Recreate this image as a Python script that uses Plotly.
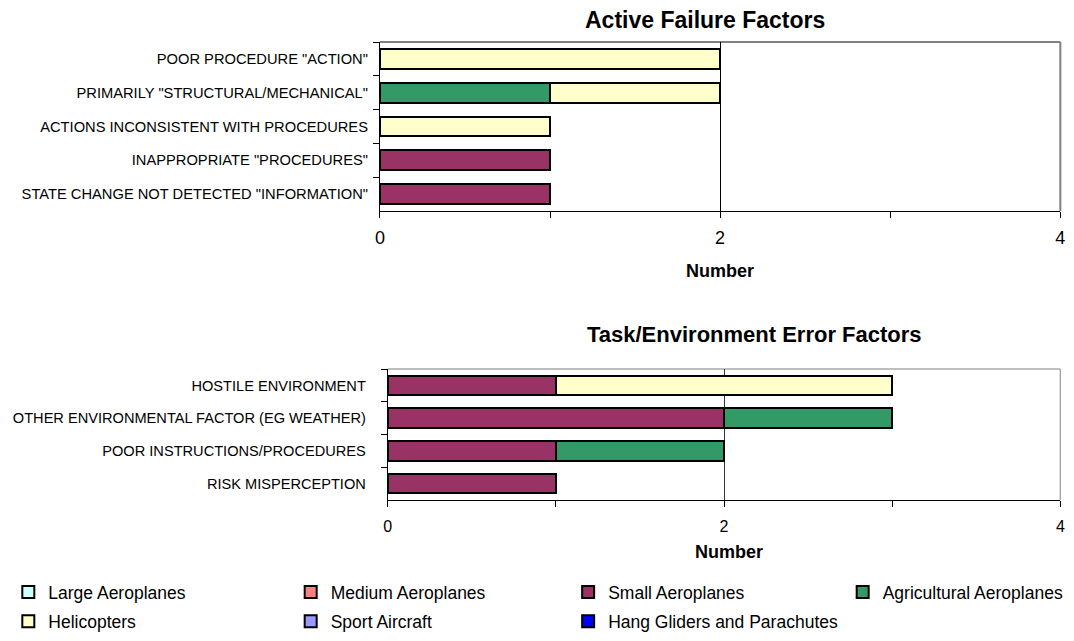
import plotly.graph_objects as go

W, H = 1074, 641

# ---------------- data ----------------
series_names = ["Large Aeroplanes", "Medium Aeroplanes", "Small Aeroplanes",
                "Agricultural Aeroplanes", "Helicopters", "Sport Aircraft",
                "Hang Gliders and Parachutes"]
series_colors = ["#CCFFFF", "#FF8080", "#993366", "#339966", "#FFFFCC", "#9999FF", "#0000FF"]

active_categories = ['POOR PROCEDURE "ACTION"', 'PRIMARILY "STRUCTURAL/MECHANICAL"',
                     'ACTIONS INCONSISTENT WITH PROCEDURES', 'INAPPROPRIATE "PROCEDURES"',
                     'STATE CHANGE NOT DETECTED "INFORMATION"']
active_large = [0, 0, 0, 0, 0]
active_medium = [0, 0, 0, 0, 0]
active_small = [0, 0, 0, 1, 1]
active_agricultural = [0, 1, 0, 0, 0]
active_helicopters = [2, 1, 1, 0, 0]
active_sport = [0, 0, 0, 0, 0]
active_hang = [0, 0, 0, 0, 0]

task_categories = ["HOSTILE ENVIRONMENT", "OTHER ENVIRONMENTAL FACTOR (EG WEATHER)",
                   "POOR INSTRUCTIONS/PROCEDURES", "RISK MISPERCEPTION"]
task_large = [0, 0, 0, 0]
task_medium = [0, 0, 0, 0]
task_small = [1, 2, 1, 1]
task_agricultural = [0, 1, 1, 0]
task_helicopters = [2, 0, 0, 0]
task_sport = [0, 0, 0, 0]
task_hang = [0, 0, 0, 0]

x_tick_values = [0, 2, 4]
x_minor_tick_values = [1, 3]
top_title = "Active Failure Factors"
bottom_title = "Task/Environment Error Factors"
x_title = "Number"

legend_columns = [["Large Aeroplanes", "Helicopters"],
                  ["Medium Aeroplanes", "Sport Aircraft"],
                  ["Small Aeroplanes", "Hang Gliders and Parachutes"],
                  ["Agricultural Aeroplanes"]]

active_values = [active_large, active_medium, active_small, active_agricultural,
                 active_helicopters, active_sport, active_hang]
task_values = [task_large, task_medium, task_small, task_agricultural,
               task_helicopters, task_sport, task_hang]

# ---------------- helpers ----------------
FONT = "Arial, Liberation Sans, sans-serif"
OFF = 8  # page body margin of the html page


def fx(px):
    return (px - OFF) / W


def fy(py):
    return 1 - (py - OFF) / H


legend_of = {}
for i, col in enumerate(legend_columns):
    for name in col:
        legend_of[name] = "legend" if i == 0 else f"legend{i + 1}"

fig = go.Figure()

for name, color, vals in zip(series_names, series_colors, active_values):
    fig.add_trace(go.Bar(
        x=vals, y=active_categories, orientation="h", name=name,
        marker=dict(color=color, line=dict(color="black", width=2)),
        xaxis="x", yaxis="y", legend=legend_of[name], legendgroup=name,
        showlegend=True, hoverinfo="x+y+name"))

for name, color, vals in zip(series_names, series_colors, task_values):
    fig.add_trace(go.Bar(
        x=vals, y=task_categories, orientation="h", name=name,
        marker=dict(color=color, line=dict(color="black", width=2)),
        xaxis="x2", yaxis="y2", legend=legend_of[name], legendgroup=name,
        showlegend=False, hoverinfo="x+y+name"))

common_x = dict(range=[0, 4], tickmode="array", tickvals=x_tick_values,
                ticks="outside", ticklen=6, tickcolor="black", tickwidth=1,
                showline=True, linecolor="black", linewidth=1,
                showgrid=True, gridcolor="black", gridwidth=1, zeroline=False,
                minor=dict(tickmode="array", tickvals=x_minor_tick_values, ticks="outside",
                           ticklen=6, tickcolor="black", showgrid=False),
                fixedrange=True)

common_y = dict(type="category", autorange="reversed", tickson="boundaries",
                ticks="outside", ticklen=6, tickcolor="black",
                showline=True, linecolor="black", linewidth=1,
                showgrid=False, zeroline=False, fixedrange=True)

legend_common = dict(orientation="v", yanchor="top", xanchor="left",
                     font=dict(family=FONT, size=17.5, color="black"),
                     bgcolor="rgba(0,0,0,0)", borderwidth=0,
                     tracegroupgap=3.5, traceorder="grouped")

legend_x = [-8, 280, 563, 843]
legend_top = 574

layout_legends = {}
for i in range(len(legend_columns)):
    key = "legend" if i == 0 else f"legend{i + 1}"
    layout_legends[key] = dict(legend_common, x=fx(legend_x[i]), y=fy(legend_top))

fig.update_layout(
    width=W, height=H, autosize=False,
    margin=dict(l=0, r=0, t=0, b=0),
    paper_bgcolor="white", plot_bgcolor="white",
    barmode="stack", bargap=0.41,
    font=dict(family=FONT, color="black"),
    xaxis=dict(common_x, domain=[fx(371), fx(1065)], anchor="y",
               tickfont=dict(size=18), ticklabelstandoff=4),
    yaxis=dict(common_y, domain=[fy(211), fy(42)], anchor="x",
               tickfont=dict(size=14.7), ticklabelstandoff=8),
    xaxis2=dict(common_x, domain=[fx(379), fx(1065)], anchor="y2",
                tickfont=dict(size=16), ticklabelstandoff=6,
                gridcolor="#333333"),
    yaxis2=dict(common_y, domain=[fy(500), fy(369)], anchor="x2",
                tickfont=dict(size=14.6), ticklabelstandoff=18),
    shapes=[
        dict(type="line", xref="x domain", yref="y domain", x0=0, x1=1, y0=1, y1=1,
             line=dict(color="#808080", width=2), layer="below"),
        dict(type="line", xref="x domain", yref="y domain", x0=1, x1=1, y0=0, y1=1,
             line=dict(color="#808080", width=2), layer="below"),
        dict(type="line", xref="x2 domain", yref="y2 domain", x0=0, x1=1, y0=1, y1=1,
             line=dict(color="#A8A8A8", width=1.5), layer="below"),
        dict(type="line", xref="x2 domain", yref="y2 domain", x0=1, x1=1, y0=0, y1=1,
             line=dict(color="#A8A8A8", width=1.5), layer="below"),
    ],
    annotations=[
        dict(text=f"<b>{top_title}</b>", x=fx(703), y=fy(20), xref="paper", yref="paper",
             showarrow=False, font=dict(size=23), xanchor="center", yanchor="middle"),
        dict(text=f"<b>{x_title}</b>", x=fx(718), y=fy(271), xref="paper", yref="paper",
             showarrow=False, font=dict(size=18), xanchor="center", yanchor="middle"),
        dict(text=f"<b>{bottom_title}</b>", x=fx(753), y=fy(334), xref="paper", yref="paper",
             showarrow=False, font=dict(size=22), xanchor="center", yanchor="middle"),
        dict(text=f"<b>{x_title}</b>", x=fx(727), y=fy(552), xref="paper", yref="paper",
             showarrow=False, font=dict(size=18), xanchor="center", yanchor="middle"),
    ],
    **layout_legends,
)

fig.write_html("out.html")
